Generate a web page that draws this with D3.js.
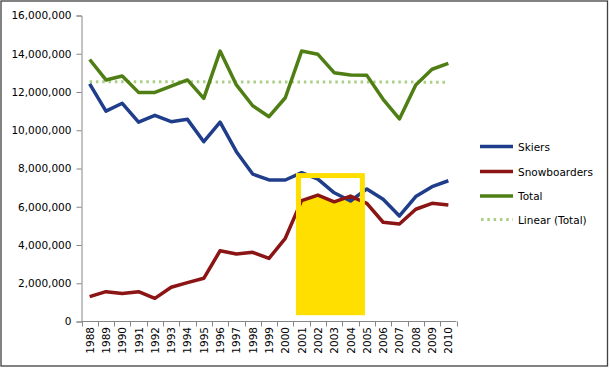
<!DOCTYPE html>
<html>
<head>
<meta charset="utf-8">
<script src="https://cdn.jsdelivr.net/npm/d3@7"></script>
<style>
  html, body { margin: 0; padding: 0; background: #ffffff; }
  svg { display: block; }
  text { font-family: "DejaVu Sans", Verdana, sans-serif; fill: #000; }
</style>
</head>
<body>
<svg id="chart" width="610" height="368"></svg>
<script>
// ---- data ----
const years = ["1988","1989","1990","1991","1992","1993","1994","1995","1996","1997","1998","1999",
               "2000","2001","2002","2003","2004","2005","2006","2007","2008","2009","2010"];
const skiers = [12420000, 11000000, 11410000, 10420000, 10780000, 10450000, 10570000, 9400000,
                10420000, 8880000, 7710000, 7400000, 7400000, 7780000, 7440000, 6730000,
                6300000, 6930000, 6390000, 5520000, 6530000, 7050000, 7360000];
const snowboarders = [1300000, 1560000, 1460000, 1560000, 1210000, 1790000, 2030000, 2260000,
                      3700000, 3530000, 3620000, 3300000, 4350000, 6320000, 6610000, 6260000,
                      6560000, 6180000, 5190000, 5100000, 5870000, 6180000, 6090000];
const total = [13700000, 12630000, 12840000, 11980000, 11980000, 12310000, 12630000, 11670000,
               14140000, 12370000, 11280000, 10710000, 11700000, 14140000, 13970000, 13010000,
               12890000, 12870000, 11620000, 10590000, 12370000, 13190000, 13500000];
const yTicks = [0, 2000000, 4000000, 6000000, 8000000, 10000000, 12000000, 14000000, 16000000];
const seriesNames = ["Skiers", "Snowboarders", "Total", "Linear (Total)"];
const highlightYears = ["2001", "2004"];
const highlightRange = [340000, 7750000];

// ---- layout ----
const svg = d3.select("#chart");
const W = 610, H = 368;
const colors = { Skiers: "#1f3d8a", Snowboarders: "#8b1414", Total: "#4f7f14", trend: "#a9cf86" };

svg.append("rect").attr("x", 1).attr("y", 1).attr("width", 606.5).attr("height", 365)
  .attr("fill", "#fff").attr("stroke", "#404040").attr("stroke-width", 1.3);

const x = d3.scaleBand().domain(years).range([81.5, 456.5]).padding(0);
const y = d3.scaleLinear().domain([0, 16000000]).range([321.5, 15.5]);
const cx = d => x(d) + x.bandwidth() / 2;

// linear trend of Total (least squares)
const n = total.length;
const idx = d3.range(n);
const mx = d3.mean(idx), my = d3.mean(total);
const slope = d3.sum(idx, i => (i - mx) * (total[i] - my)) / d3.sum(idx, i => (i - mx) * (i - mx));
const icpt = my - slope * mx;
const trend = idx.map(i => icpt + slope * i);

// ---- highlight fill (under snowboarders within box) ----
const hx0 = x(highlightYears[0]) + 2.5;
const hx1 = x(highlightYears[1]) + x.bandwidth() + 6.2;
const hy0 = y(highlightRange[1]);
const hy1 = y(highlightRange[0]);
const defs = svg.append("defs");
defs.append("clipPath").attr("id", "hclip").append("rect")
  .attr("x", hx0).attr("y", hy0).attr("width", hx1 - hx0).attr("height", hy1 - hy0);
const areaGen = d3.area().x((d, i) => cx(years[i])).y0(hy1).y1(d => y(d));
svg.append("path").datum(snowboarders).attr("d", areaGen)
  .attr("fill", "#ffdf00").attr("clip-path", "url(#hclip)");

// ---- axes ----
const yAxis = d3.axisLeft(y).tickValues(yTicks).tickFormat(d3.format(",")).tickSize(5).tickPadding(5);
const gy = svg.append("g").attr("transform", "translate(81.5,0)").call(yAxis);
gy.select(".domain").attr("stroke", "#868686");
gy.selectAll(".tick line").attr("stroke", "#868686");
gy.selectAll(".tick text").style("font-size", "10.5px").style("font-family", "DejaVu Sans");

const gx = svg.append("g");
gx.append("line").attr("x1", 81.5).attr("x2", 456.5).attr("y1", 321.5).attr("y2", 321.5)
  .attr("stroke", "#868686");
const bounds = years.map(d => x(d)).concat([x.range()[1]]);
gx.selectAll("line.tk").data(bounds).enter().append("line")
  .attr("x1", d => Math.round(d) + 0.5).attr("x2", d => Math.round(d) + 0.5)
  .attr("y1", 321.5).attr("y2", 326.5).attr("stroke", "#868686");
gx.selectAll("text").data(years).enter().append("text")
  .attr("transform", d => `translate(${cx(d) + 4},327) rotate(-90)`)
  .attr("text-anchor", "end")
  .style("font-size", "10.5px")
  .text(d => d);

// ---- lines ----
const line = d3.line().x((d, i) => cx(years[i])).y(d => y(d));
svg.append("path").datum(trend).attr("d", line).attr("fill", "none")
  .attr("stroke", colors.trend).attr("stroke-width", 3).attr("stroke-dasharray", "2.5,3.8");
[["Total", total], ["Skiers", skiers], ["Snowboarders", snowboarders]].forEach(([k, v]) => {
  svg.append("path").datum(v).attr("d", line).attr("fill", "none")
    .attr("stroke", colors[k]).attr("stroke-width", 3.5).attr("stroke-linejoin", "round");
});

// ---- highlight outline ----
svg.append("rect").attr("x", hx0 + 2.5).attr("y", hy0 + 2.3)
  .attr("width", hx1 - hx0 - 5).attr("height", hy1 - hy0 - 4.6)
  .attr("fill", "none").attr("stroke", "#ffdf00").attr("stroke-width", 5);

// ---- legend ----
const lg = svg.append("g");
const legendY = [146.5, 171.5, 196, 219.5];
const lcols = [colors.Skiers, colors.Snowboarders, colors.Total, colors.trend];
seriesNames.forEach((name, i) => {
  const ln = lg.append("line").attr("x1", 480).attr("x2", 513)
    .attr("y1", legendY[i]).attr("y2", legendY[i])
    .attr("stroke", lcols[i]).attr("stroke-width", i === 3 ? 3 : 3.5);
  if (i === 3) ln.attr("stroke-dasharray", "2.5,3.8").attr("x1", 481);
  lg.append("text").attr("x", 518).attr("y", legendY[i] + 4)
    .style("font-size", "10.5px").text(name);
});
</script>
</body>
</html>
